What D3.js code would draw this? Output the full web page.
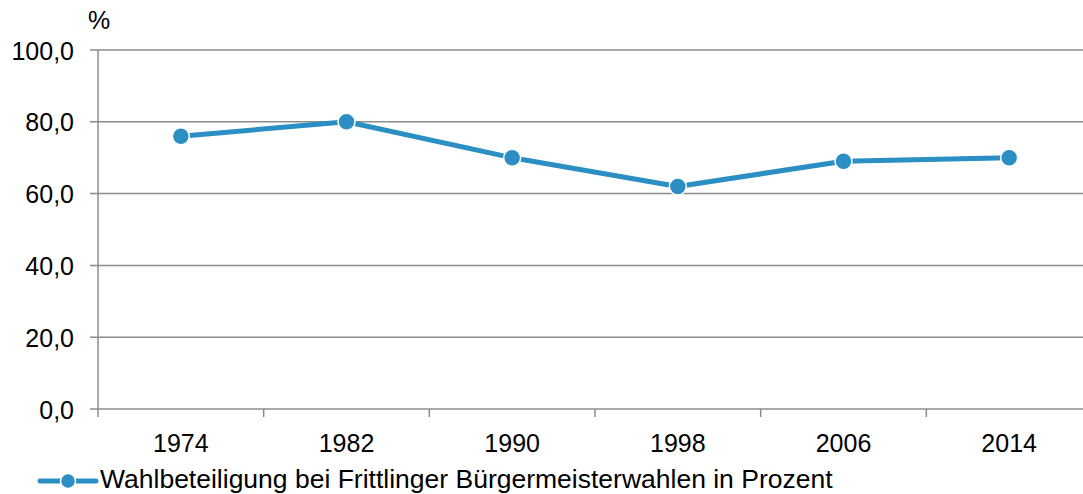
<!DOCTYPE html>
<html lang="de">
<head>
  <meta charset="UTF-8">
  <title>Wahlbeteiligung</title>
  <style>
    body { margin: 0; padding: 0; background: #fff; font-family: "Liberation Sans", Arial, sans-serif; }
    svg { display: block; }
    .grid line { stroke: #8c8c8c; stroke-width: 1.5px; }
    .axis text { font-size: 25px; fill: #000; }
  </style>
</head>
<body>
<div id="chart"></div>
<script src="https://d3js.org/d3.v7.min.js"></script>
<script>
  // Daten
  const years = ["1974", "1982", "1990", "1998", "2006", "2014"];
  const turnout = [76, 80, 70, 62, 69, 70];
  const yTicks = [0, 20, 40, 60, 80, 100];
  const seriesName = "Wahlbeteiligung bei Frittlinger Bürgermeisterwahlen in Prozent";

  const width = 1083, height = 494;
  const plotLeft = 98, plotRight = 1092, plotTop = 50, plotBottom = 409;
  const blue = "#2b8fc3", gridColor = "#8c8c8c";

  const svg = d3.select("#chart").append("svg")
      .attr("width", width)
      .attr("height", height);

  const x = d3.scaleBand().domain(years).range([plotLeft, plotRight]);
  const y = d3.scaleLinear().domain([0, 100]).range([plotBottom, plotTop]);
  const fmt = v => v.toFixed(1).replace(".", ",");

  // horizontal gridlines
  svg.append("g").attr("class", "grid")
    .selectAll("line")
    .data(yTicks)
    .enter().append("line")
      .attr("x1", plotLeft - 8)
      .attr("x2", width)
      .attr("y1", d => y(d))
      .attr("y2", d => y(d));

  // vertical axis line
  svg.append("line")
    .attr("x1", plotLeft).attr("x2", plotLeft)
    .attr("y1", plotTop).attr("y2", plotBottom)
    .attr("stroke", gridColor).attr("stroke-width", 1.5);

  // y labels
  svg.append("g").attr("class", "axis")
    .selectAll("text")
    .data(yTicks)
    .enter().append("text")
      .attr("x", 74)
      .attr("y", d => y(d) + 9.5)
      .attr("text-anchor", "end")
      .text(fmt);

  svg.append("text")
    .attr("x", 88).attr("y", 29)
    .attr("font-size", 25)
    .text("%");

  // x ticks (between categories)
  const xTickPos = years.map(d => x(d));
  svg.append("g")
    .selectAll("line")
    .data(xTickPos)
    .enter().append("line")
      .attr("x1", d => d).attr("x2", d => d)
      .attr("y1", plotBottom).attr("y2", plotBottom + 8)
      .attr("stroke", gridColor).attr("stroke-width", 1.5);

  svg.append("g").attr("class", "axis")
    .selectAll("text")
    .data(years)
    .enter().append("text")
      .attr("x", d => x(d) + x.bandwidth() / 2)
      .attr("y", 452)
      .attr("text-anchor", "middle")
      .text(d => d);

  // series line
  const line = d3.line()
    .x((d, i) => x(years[i]) + x.bandwidth() / 2)
    .y(d => y(d));

  svg.append("path")
    .datum(turnout)
    .attr("fill", "none")
    .attr("stroke", blue)
    .attr("stroke-width", 5)
    .attr("stroke-linejoin", "round")
    .attr("d", line);

  svg.append("g")
    .selectAll("circle")
    .data(turnout)
    .enter().append("circle")
      .attr("cx", (d, i) => x(years[i]) + x.bandwidth() / 2)
      .attr("cy", d => y(d))
      .attr("r", 8.5)
      .attr("fill", blue)
      .attr("stroke", "#fff")
      .attr("stroke-width", 1.5);

  // legend
  const ly = 481;
  svg.append("line")
    .attr("x1", 40).attr("x2", 96)
    .attr("y1", ly).attr("y2", ly)
    .attr("stroke", blue).attr("stroke-width", 5)
    .attr("stroke-linecap", "round");
  svg.append("circle")
    .attr("cx", 68).attr("cy", ly).attr("r", 7.5)
    .attr("fill", blue).attr("stroke", "#fff").attr("stroke-width", 1.5);
  svg.append("text")
    .attr("x", 100).attr("y", 488)
    .attr("font-size", 26.5)
    .text(seriesName);
</script>
</body>
</html>
